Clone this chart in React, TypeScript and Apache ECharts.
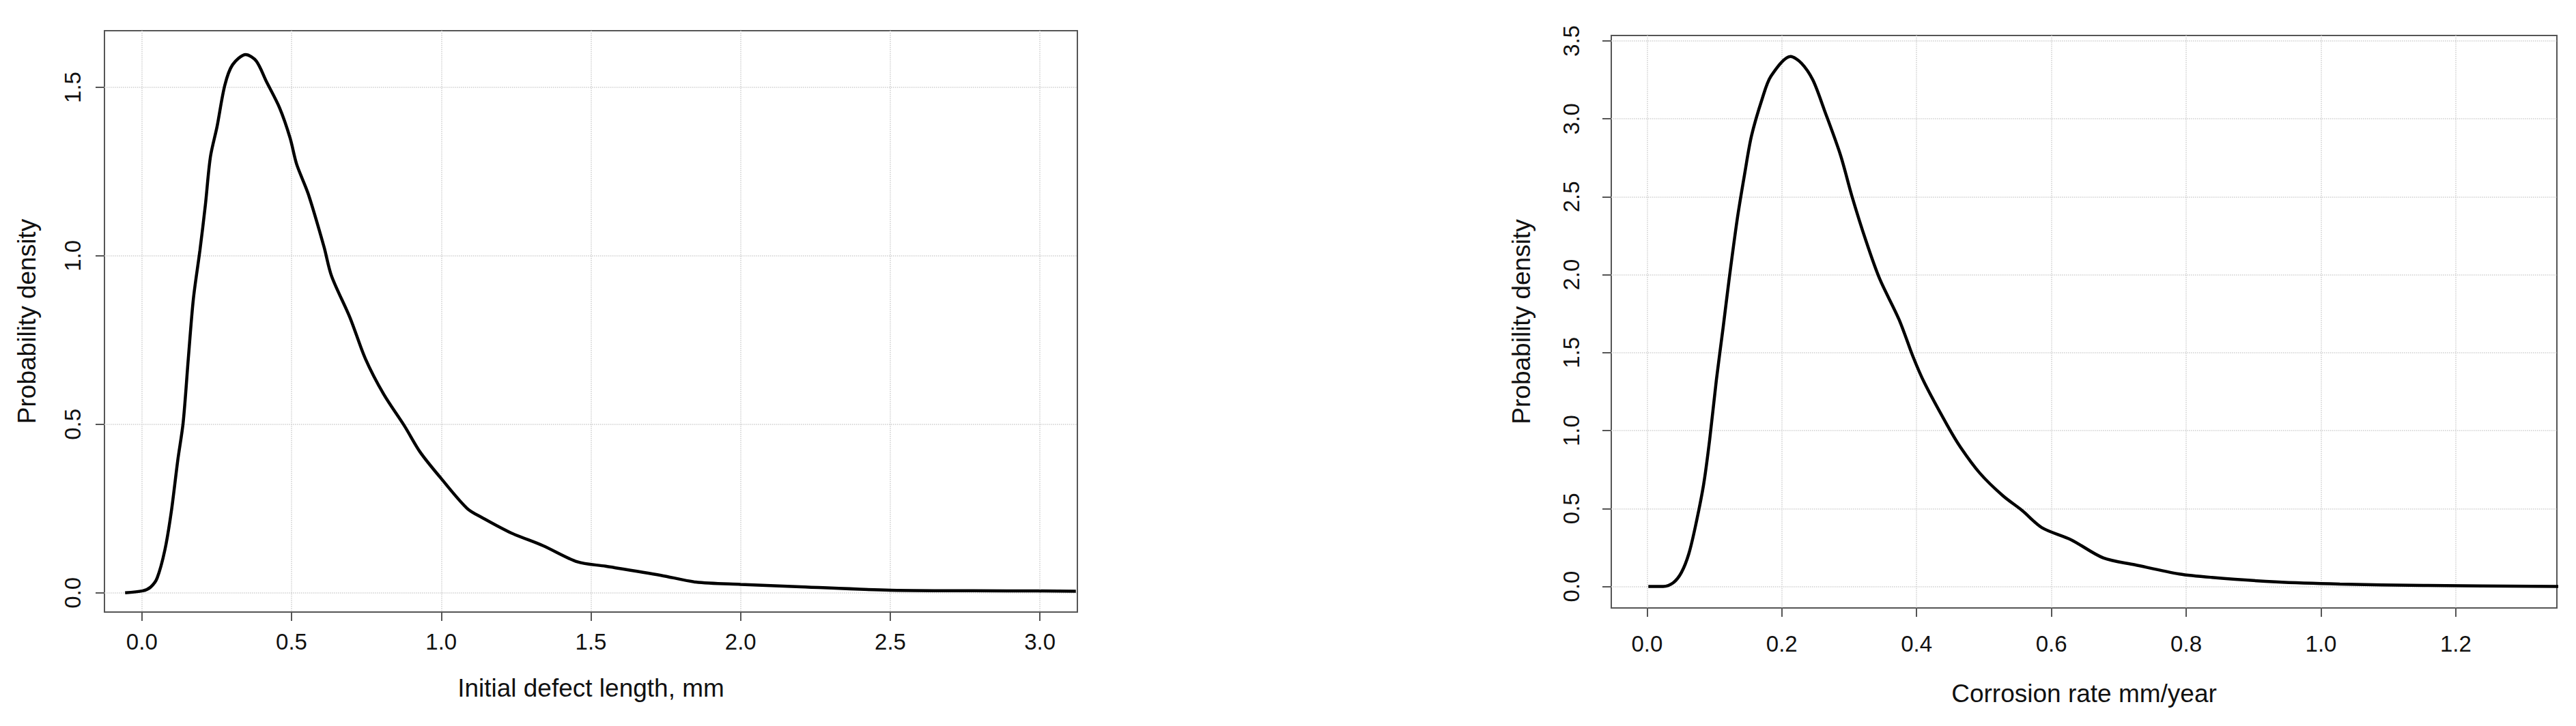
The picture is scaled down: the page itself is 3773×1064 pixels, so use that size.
import React, { useEffect, useRef } from "react";
import * as echarts from "echarts";

// Left panel: initial defect length density
const defectLength = [-0.056, 0.003, 0.029, 0.051, 0.077, 0.098, 0.12, 0.138, 0.155, 0.172, 0.194, 0.212, 0.229, 0.251, 0.277, 0.303, 0.347, 0.382, 0.416, 0.46, 0.495, 0.517, 0.556, 0.608, 0.634, 0.695, 0.747, 0.808, 0.878, 0.93, 1.0, 1.087, 1.139, 1.233, 1.34, 1.455, 1.549, 1.734, 1.85, 2.0, 2.2, 2.5, 2.9, 3.12];
const defectDensity = [0, 0.006, 0.017, 0.044, 0.128, 0.239, 0.394, 0.506, 0.694, 0.872, 1.017, 1.15, 1.294, 1.383, 1.506, 1.567, 1.597, 1.578, 1.517, 1.439, 1.35, 1.272, 1.183, 1.028, 0.939, 0.817, 0.694, 0.589, 0.494, 0.417, 0.339, 0.25, 0.222, 0.178, 0.14, 0.092, 0.079, 0.052, 0.032, 0.025, 0.018, 0.008, 0.006, 0.005];
const defectTicksX = [0, 0.5, 1.0, 1.5, 2.0, 2.5, 3.0];
const defectTicksY = [0, 0.5, 1.0, 1.5];

// Right panel: corrosion rate density
const corrosionRate = [0.002, 0.024, 0.039, 0.051, 0.062, 0.072, 0.084, 0.093, 0.103, 0.113, 0.122, 0.134, 0.145, 0.155, 0.171, 0.184, 0.213, 0.229, 0.246, 0.263, 0.287, 0.304, 0.325, 0.345, 0.374, 0.395, 0.412, 0.445, 0.465, 0.494, 0.528, 0.557, 0.586, 0.629, 0.677, 0.724, 0.79, 0.838, 0.933, 1.028, 1.152, 1.352];
const corrosionDensity = [0, 0, 0.024, 0.089, 0.209, 0.389, 0.654, 0.942, 1.327, 1.663, 1.976, 2.36, 2.65, 2.89, 3.13, 3.274, 3.4, 3.358, 3.25, 3.058, 2.769, 2.505, 2.216, 1.976, 1.712, 1.471, 1.303, 1.038, 0.894, 0.726, 0.582, 0.486, 0.377, 0.3, 0.183, 0.139, 0.08, 0.058, 0.029, 0.015, 0.007, 0.0];
const corrosionTicksX = [0, 0.2, 0.4, 0.6, 0.8, 1.0, 1.2];
const corrosionTicksY = [0, 0.5, 1.0, 1.5, 2.0, 2.5, 3.0, 3.5];

const xTitleLeft = "Initial defect length, mm";
const xTitleRight = "Corrosion rate mm/year";
const yTitle = "Probability density";

const FONT = "'Liberation Sans', Arial, sans-serif";
const TEXT = "#111";
const FRAME = "#555";

function zip(xs: number[], ys: number[]) {
  return xs.map((x, i) => [x, ys[i]]);
}

function xAxisCfg(grid: number, min: number, max: number, ticks: number[], name: string, labelMargin: number, nameGap: number) {
  return {
    type: "value",
    gridIndex: grid,
    position: "bottom",
    min,
    max,
    name,
    nameLocation: "middle",
    nameGap,
    nameTextStyle: { fontFamily: FONT, fontSize: 37, color: TEXT },
    axisLine: { show: false, onZero: false },
    axisTick: { show: true, length: 13, customValues: ticks, lineStyle: { color: FRAME, width: 2 } },
    axisLabel: {
      customValues: ticks,
      formatter: (v: number) => v.toFixed(1),
      fontFamily: FONT,
      fontSize: 33,
      color: TEXT,
      margin: labelMargin,
    },
    splitLine: { show: true, lineStyle: { color: "#cfcfcf", type: "dotted", width: 1.5 } },
  };
}

function yAxisCfg(grid: number, min: number, max: number, ticks: number[], labelMargin: number, nameGap: number) {
  return {
    type: "value",
    gridIndex: grid,
    position: "left",
    min,
    max,
    name: yTitle,
    nameLocation: "middle",
    nameGap,
    nameTextStyle: { fontFamily: FONT, fontSize: 37, color: TEXT },
    axisLine: { show: false, onZero: false },
    axisTick: { show: true, length: 13, customValues: ticks, lineStyle: { color: FRAME, width: 2 } },
    axisLabel: {
      customValues: ticks,
      formatter: (v: number) => v.toFixed(1),
      rotate: 90,
      fontFamily: FONT,
      fontSize: 33,
      color: TEXT,
      margin: labelMargin,
    },
    splitLine: { show: true, lineStyle: { color: "#cfcfcf", type: "dotted", width: 1.5 } },
  };
}

export default function App() {
  const ref = useRef<HTMLDivElement>(null);
  useEffect(() => {
    if (!ref.current) return;
    const chart = echarts.init(ref.current, undefined, { renderer: "svg" });
    chart.setOption({
      animation: false,
      backgroundColor: "#ffffff",
      grid: [
        { left: 153, top: 45, width: 1425, height: 852, show: true, borderColor: FRAME, borderWidth: 2, backgroundColor: "transparent" },
        { left: 2360, top: 52, width: 1385, height: 839, show: true, borderColor: FRAME, borderWidth: 2, backgroundColor: "transparent" },
      ],
      xAxis: [
        xAxisCfg(0, -0.125, 3.125, defectTicksX, xTitleLeft, 27, 93),
        xAxisCfg(1, -0.053, 1.35, corrosionTicksX, xTitleRight, 36, 107),
      ],
      yAxis: [
        yAxisCfg(0, -0.057, 1.668, defectTicksY, 30, 95),
        yAxisCfg(1, -0.138, 3.535, corrosionTicksY, 42, 113),
      ],
      series: [
        {
          type: "line",
          xAxisIndex: 0,
          yAxisIndex: 0,
          data: zip(defectLength, defectDensity),
          showSymbol: false,
          smooth: 0.3,
          lineStyle: { color: "#000", width: 4.5 },
        },
        {
          type: "line",
          xAxisIndex: 1,
          yAxisIndex: 1,
          data: zip(corrosionRate, corrosionDensity),
          showSymbol: false,
          smooth: 0.3,
          lineStyle: { color: "#000", width: 4.5 },
        },
      ],
    });
    return () => chart.dispose();
  }, []);
  return (
    <div
      ref={ref}
      style={{ position: "fixed", left: 0, top: 0, width: 3773, height: 1064, background: "#fff" }}
    />
  );
}
